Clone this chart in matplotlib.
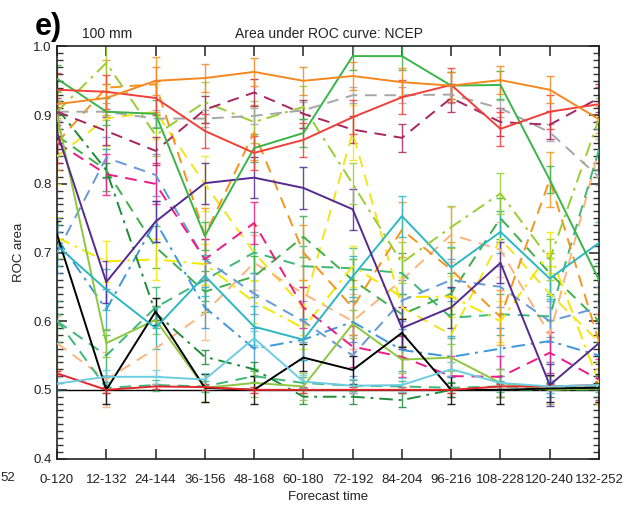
import matplotlib
matplotlib.use("Agg")
import matplotlib.pyplot as plt
from matplotlib.ticker import MultipleLocator, FormatStrFormatter

plt.rcParams['font.family'] = ['Liberation Sans', 'DejaVu Sans']

# forecast windows on the x axis
labels = ['0-120', '12-132', '24-144', '36-156', '48-168', '60-180',
          '72-192', '84-204', '96-216', '108-228', '120-240', '132-252']

# ROC area per model / threshold
orange_solid = [0.916, 0.925, 0.950, 0.954, 0.963, 0.950, 0.957, 0.948, 0.943, 0.951, 0.937, 0.894]
red_solid = [0.937, 0.934, 0.925, 0.877, 0.845, 0.864, 0.897, 0.926, 0.944, 0.880, 0.905, 0.916]
green_solid = [0.953, 0.905, 0.902, 0.724, 0.852, 0.874, 0.986, 0.986, 0.943, 0.944, 0.806, 0.660]
maroon_dash = [0.905, 0.877, 0.848, 0.908, 0.933, 0.902, 0.879, 0.867, 0.925, 0.890, 0.886, 0.925]
gray_dash = [0.905, 0.905, 0.895, 0.895, 0.899, 0.907, 0.929, 0.929, 0.930, 0.910, 0.875, 0.810]
yg_dashdot = [0.905, 0.976, 0.871, 0.919, 0.890, 0.912, 0.800, 0.685, 0.737, 0.786, 0.690, 0.895]
purple_solid = [0.875, 0.657, 0.745, 0.801, 0.809, 0.794, 0.763, 0.590, 0.620, 0.685, 0.507, 0.568]
teal_solid = [0.710, 0.646, 0.590, 0.666, 0.592, 0.573, 0.665, 0.753, 0.678, 0.730, 0.662, 0.714]
sky_solid = [0.509, 0.519, 0.519, 0.515, 0.575, 0.512, 0.506, 0.507, 0.530, 0.510, 0.505, 0.507]
red_low = [0.524, 0.500, 0.505, 0.504, 0.500, 0.500, 0.500, 0.500, 0.500, 0.505, 0.505, 0.507]
black_solid = [0.726, 0.500, 0.614, 0.503, 0.500, 0.547, 0.529, 0.583, 0.500, 0.500, 0.502, 0.503]
lgreen_solid = [0.900, 0.568, 0.602, 0.503, 0.510, 0.505, 0.596, 0.544, 0.547, 0.510, 0.500, 0.502]
dgreen_dashdot = [0.910, 0.820, 0.612, 0.548, 0.530, 0.490, 0.490, 0.485, 0.500, 0.500, 0.500, 0.500]
seagreen_low = [0.602, 0.503, 0.507, 0.505, 0.520, 0.510, 0.506, 0.505, 0.503, 0.505, 0.503, 0.505]
orange_dash = [0.860, 0.940, 0.945, 0.725, 0.875, 0.700, 0.620, 0.733, 0.675, 0.606, 0.806, 0.570]
magenta_dash = [0.860, 0.814, 0.800, 0.690, 0.743, 0.620, 0.563, 0.548, 0.520, 0.519, 0.554, 0.515]
blue_dash = [0.700, 0.838, 0.813, 0.690, 0.640, 0.600, 0.550, 0.630, 0.660, 0.650, 0.600, 0.620]
blue_dashdot = [0.720, 0.617, 0.745, 0.620, 0.560, 0.573, 0.599, 0.558, 0.548, 0.560, 0.571, 0.550]
yellow_dashdot = [0.722, 0.687, 0.690, 0.683, 0.628, 0.590, 0.680, 0.635, 0.636, 0.600, 0.700, 0.510]
yellow_dash = [0.840, 0.895, 0.905, 0.800, 0.700, 0.620, 0.875, 0.620, 0.580, 0.720, 0.640, 0.570]
peach_dash = [0.568, 0.515, 0.560, 0.612, 0.685, 0.640, 0.600, 0.660, 0.726, 0.704, 0.580, 0.850]
green_dash = [0.870, 0.820, 0.708, 0.643, 0.665, 0.723, 0.660, 0.610, 0.640, 0.750, 0.670, 0.600]
seagreen_dash = [0.600, 0.550, 0.620, 0.660, 0.700, 0.680, 0.677, 0.670, 0.605, 0.610, 0.607, 0.850]

LONG = (0, (6, 4))
DDOT = (0, (7, 3, 1.5, 3))
# (values, colour, line style, half width of error bar)
series = [
    (yellow_dash, '#f2e41c', LONG, 0.04),
    (peach_dash, '#fdb47c', LONG, 0.04),
    (seagreen_dash, '#3cb878', LONG, 0.03),
    (green_dash, '#3fae49', LONG, 0.03),
    (yellow_dashdot, '#f5e800', DDOT, 0.03),
    (blue_dashdot, '#3d97dc', DDOT, 0.03),
    (blue_dash, '#6699d6', LONG, 0.03),
    (magenta_dash, '#ee1b84', LONG, 0.03),
    (orange_dash, '#f7941d', LONG, 0.04),
    (seagreen_low, '#3cb878', LONG, 0.008),
    (dgreen_dashdot, '#1e8c3a', DDOT, 0.01),
    (lgreen_solid, '#8dc63f', '-', 0.02),
    (black_solid, '#000000', '-', 0.02),
    (red_low, '#e3262b', '-', 0.004),
    (sky_solid, '#6dcde0', '-', 0.01),
    (teal_solid, '#2bb8c2', '-', 0.03),
    (purple_solid, '#55298e', '-', 0.03),
    (yg_dashdot, '#9acd32', DDOT, 0.03),
    (gray_dash, '#a6a6a6', LONG, 0.012),
    (maroon_dash, '#a8265e', LONG, 0.02),
    (green_solid, '#3ab54a', '-', 0.02),
    (red_solid, '#f04039', '-', 0.025),
    (orange_solid, '#f5871f', '-', 0.02),
]

x = list(range(len(labels)))

fig = plt.figure(figsize=(6.32, 5.08), dpi=100)
ax = fig.add_axes([0.0902, 0.0974, 0.8576, 0.8111])

ax.axhline(0.5, color='black', lw=1.0, zorder=1)

for vals, col, ls, e in series:
    ax.errorbar(x, vals, yerr=e, color=col, ls='none', elinewidth=1.0,
                capsize=3, capthick=1.0, alpha=0.85, zorder=2)
    ax.plot(x, vals, color=col, ls=ls, lw=1.4, zorder=3)

ax.set_xlim(0, len(labels) - 1)
ax.set_ylim(0.4, 1.0)
ax.set_xticks(x)
ax.set_xticklabels(labels)
ax.yaxis.set_major_locator(MultipleLocator(0.1))
ax.yaxis.set_minor_locator(MultipleLocator(0.01))
ax.yaxis.set_major_formatter(FormatStrFormatter('%.1f'))
ax.tick_params(axis='both', which='major', direction='in', length=7, width=1.2,
               top=True, right=True, labelsize=9.5, colors='#333333', labelcolor='#222222')
ax.tick_params(axis='x', which='major', pad=11)
ax.tick_params(axis='y', which='major', pad=4)
ax.tick_params(axis='y', which='minor', direction='in', length=4, width=1.0,
               left=True, right=True, colors='#333333')
for sp in ax.spines.values():
    sp.set_linewidth(1.2)
    sp.set_color('#222222')

ax.set_xlabel('Forecast time', fontsize=9.5, color='#222222', labelpad=4)
ax.set_ylabel('ROC area', fontsize=9.5, color='#222222', labelpad=6)

fig.text(0.055, 0.932, 'e)', fontsize=22, fontweight='bold', ha='left', va='baseline')
fig.text(0.13, 0.925, '100 mm', fontsize=10, ha='left', va='baseline', color='#222222')
fig.text(0.52, 0.925, 'Area under ROC curve: NCEP', fontsize=10, ha='center',
         va='baseline', color='#222222')
fig.text(0.001, 1 - 478 / 508, '52', fontsize=9.5, ha='left', va='center', color='#222222')

fig.savefig('out.png', dpi=100)
